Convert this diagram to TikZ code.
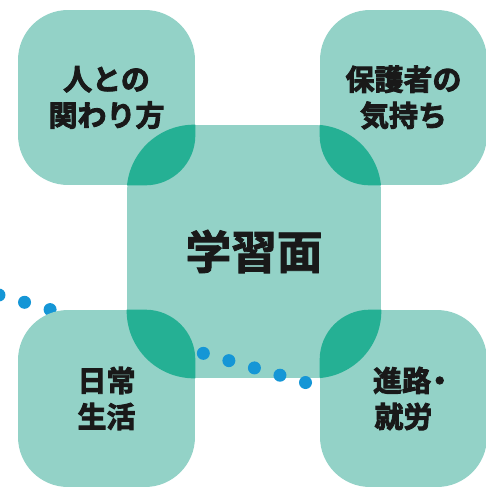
\documentclass[tikz,border=0pt]{standalone}
\usepackage{fontspec}
\usepackage{tikz}
\usetikzlibrary{calc}
\newfontfamily\jpfont{Noto Sans CJK JP}[BoldFont={Noto Sans CJK JP Bold}]
\newcommand\heavytext{\special{pdf:literal direct 2 Tr 0.5 w}}
\definecolor{boxteal}{HTML}{93D2C7}
\definecolor{overlapteal}{HTML}{25B094}
\definecolor{dotblue}{HTML}{1596D6}

\begin{document}
\begin{tikzpicture}[
    x=0.02cm, y=-0.02cm,
    area/.style = {rectangle, rounded corners=1cm, fill=boxteal,
                   inner sep=0pt, align=center, text=black!90,
                   font=\jpfont\bfseries\fontsize{16.5}{20.5}\selectfont\heavytext},
    hubarea/.style = {area, rounded corners=1.35cm,
                      font=\jpfont\bfseries\fontsize{26}{30}\selectfont\heavytext},
    dotfill/.style = {fill=dotblue}
  ]
  \useasboundingbox (0,0) rectangle (485,487);

  \node[hubarea, minimum width=5.08cm, minimum height=5.06cm] (hub) at (254,251.5) {学習面};

  % dotted trail, hidden behind the corner boxes
  \coordinate (dotstart) at (-1,295);
  \coordinate (dotend)   at (305.5,382.5);
  \foreach \i in {0,...,12}
    \fill[dotfill] ($(dotstart)!\i/12!(dotend)$) circle (0.13cm);

  \node[area, minimum width=3.54cm, minimum height=3.5cm]  (people)  at (106.5,97.5)  {人との\\関わり方};
  \node[area, minimum width=3.34cm, minimum height=3.5cm]  (parents) at (403.5,97.5)  {保護者の\\気持ち};
  \node[area, minimum width=3.54cm, minimum height=3.54cm] (life)    at (106.5,398.5) {日常\\生活};
  \node[area, minimum width=3.34cm, minimum height=3.54cm] (career)  at (403.5,398.5) {\hspace*{0.7em}進路\kern-0.2em・\\就労};

  \begin{scope}
    \clip[rounded corners=1.35cm] (hub.south west) rectangle (hub.north east);
    \foreach \corner in {people, parents, life, career}
      \fill[overlapteal, rounded corners=1cm] (\corner.south west) rectangle (\corner.north east);
  \end{scope}
\end{tikzpicture}
\end{document}
